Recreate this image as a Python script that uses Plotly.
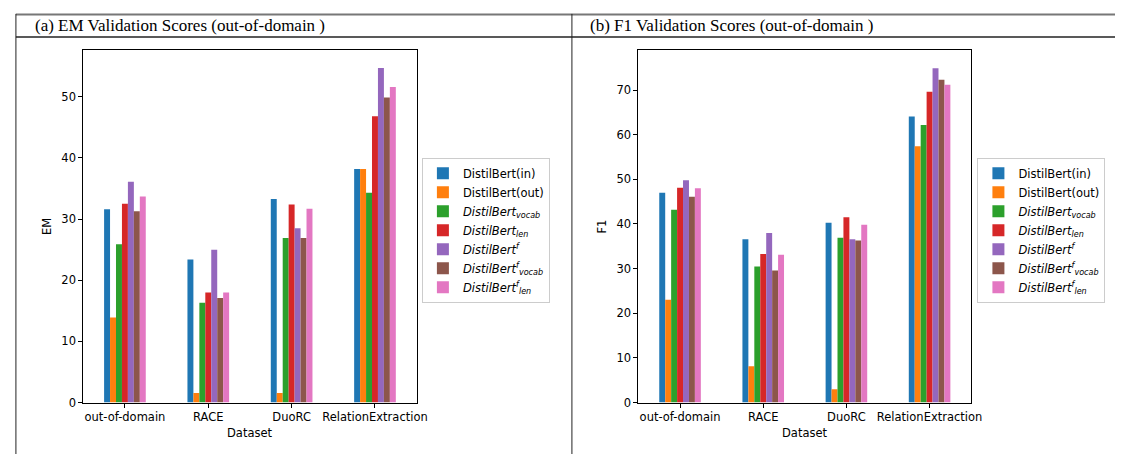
import plotly.graph_objects as go

W, H = 1123, 454

categories = ["out-of-domain", "RACE", "DuoRC", "RelationExtraction"]
series_names = [
    "DistilBert(in)",
    "DistilBert(out)",
    "<i>DistilBert<sub>vocab</sub></i>",
    "<i>DistilBert<sub>len</sub></i>",
    "<i>DistilBert<sup>f</sup></i>",
    "<i>DistilBert<sup>f</sup><sub>vocab</sub></i>",
    "<i>DistilBert<sup>f</sup><sub>len</sub></i>",
]
colors = ["#1f77b4", "#ff7f0e", "#2ca02c", "#d62728", "#9467bd", "#8c564b", "#e377c2"]

em_in = [31.6, 23.4, 33.3, 38.2]
em_out = [13.9, 1.55, 1.55, 38.2]
em_vocab = [25.9, 16.3, 26.9, 34.3]
em_len = [32.5, 18.0, 32.4, 46.8]
em_f = [36.1, 25.0, 28.5, 54.7]
em_f_vocab = [31.3, 17.1, 26.9, 49.9]
em_f_len = [33.7, 18.0, 31.7, 51.6]

f1_in = [47.0, 36.6, 40.3, 64.1]
f1_out = [23.0, 8.1, 3.0, 57.4]
f1_vocab = [43.2, 30.5, 36.9, 62.2]
f1_len = [48.1, 33.3, 41.5, 69.6]
f1_f = [49.8, 38.0, 36.6, 74.9]
f1_f_vocab = [46.1, 29.6, 36.3, 72.3]
f1_f_len = [48.0, 33.1, 39.8, 71.2]

em_series = [em_in, em_out, em_vocab, em_len, em_f, em_f_vocab, em_f_len]
f1_series = [f1_in, f1_out, f1_vocab, f1_len, f1_f, f1_f_vocab, f1_f_len]

panel_titles = ["(a) EM Validation Scores (out-of-domain )", "(b) F1 Validation Scores (out-of-domain )"]
y_titles = ["EM", "F1"]
x_title = "Dataset"

SANS = "DejaVu Sans"
SERIF = "Liberation Serif"
FS = 11.5


def px(x):
    return x / W


def py(y):
    return 1 - y / H


fig = go.Figure()

for i, (name, vals) in enumerate(zip(series_names, em_series)):
    fig.add_trace(go.Bar(x=categories, y=vals, name=name, marker=dict(color=colors[i], line=dict(width=0)),
                         xaxis="x", yaxis="y", legend="legend"))
for i, (name, vals) in enumerate(zip(series_names, f1_series)):
    fig.add_trace(go.Bar(x=categories, y=vals, name=name, marker=dict(color=colors[i], line=dict(width=0)),
                         xaxis="x2", yaxis="y2", legend="legend2"))

L1, R1 = 76, 412.7
L2, R2 = 636.7, 972.7
TOP, BOT = 43, 400.7

axis_common = dict(showline=True, linecolor="black", linewidth=1, mirror=True,
                   ticks="outside", ticklen=4, tickwidth=1, tickcolor="black",
                   showgrid=False, zeroline=False,
                   tickfont=dict(family=SANS, size=FS, color="black"))

fig.update_layout(
    width=W, height=H,
    margin=dict(l=0, r=0, t=0, b=0),
    paper_bgcolor="white", plot_bgcolor="white",
    barmode="group", bargap=0.5, bargroupgap=0,
    xaxis=dict(domain=[px(L1), px(R1)], anchor="y", type="category", range=[-0.5, 3.5], **axis_common),
    yaxis=dict(domain=[py(BOT), py(TOP)], anchor="x", range=[0, 57.6], dtick=10, **axis_common),
    xaxis2=dict(domain=[px(L2), px(R2)], anchor="y2", type="category", range=[-0.5, 3.5], **axis_common),
    yaxis2=dict(domain=[py(BOT), py(TOP)], anchor="x2", range=[0, 78.9], dtick=10, **axis_common),
    legend=dict(x=px(418), y=py(152), xanchor="left", yanchor="top",
                bordercolor="#cccccc", borderwidth=1, bgcolor="white",
                font=dict(family=SANS, size=FS, color="black")),
    legend2=dict(x=px(979), y=py(152), xanchor="left", yanchor="top",
                 bordercolor="#cccccc", borderwidth=1, bgcolor="white",
                 font=dict(family=SANS, size=FS, color="black")),
)

# table lines
shapes = [
    dict(type="line", xref="paper", yref="paper", x0=px(8), x1=1, y0=py(6.5), y1=py(6.5),
         line=dict(color="#777777", width=2)),
    dict(type="line", xref="paper", yref="paper", x0=px(8), x1=1, y0=py(29.5), y1=py(29.5),
         line=dict(color="#222222", width=1.5)),
    dict(type="line", xref="paper", yref="paper", x0=px(8), x1=px(8), y0=py(6), y1=0,
         line=dict(color="#222222", width=1)),
    dict(type="line", xref="paper", yref="paper", x0=px(569.5), x1=px(569.5), y0=py(6), y1=0,
         line=dict(color="#222222", width=1)),
]
fig.update_layout(shapes=shapes)

annotations = [
    dict(text=panel_titles[0], x=px(25), y=py(17.5), xref="paper", yref="paper", xanchor="left", yanchor="middle",
         showarrow=False, font=dict(family=SERIF, size=17, color="black")),
    dict(text=panel_titles[1], x=px(586), y=py(17.5), xref="paper", yref="paper", xanchor="left", yanchor="middle",
         showarrow=False, font=dict(family=SERIF, size=17, color="black")),
    dict(text=x_title, x=px((L1 + R1) / 2), y=py(432), xref="paper", yref="paper", xanchor="center", yanchor="middle",
         showarrow=False, font=dict(family=SANS, size=FS, color="black")),
    dict(text=x_title, x=px((L2 + R2) / 2), y=py(432), xref="paper", yref="paper", xanchor="center", yanchor="middle",
         showarrow=False, font=dict(family=SANS, size=FS, color="black")),
    dict(text=y_titles[0], x=px(40), y=py((TOP + BOT) / 2), xref="paper", yref="paper", xanchor="center", yanchor="middle",
         textangle=-90, showarrow=False, font=dict(family=SANS, size=FS, color="black")),
    dict(text=y_titles[1], x=px(600), y=py((TOP + BOT) / 2), xref="paper", yref="paper", xanchor="center", yanchor="middle",
         textangle=-90, showarrow=False, font=dict(family=SANS, size=FS, color="black")),
]
fig.update_layout(annotations=annotations)

fig.write_html("out.html")
